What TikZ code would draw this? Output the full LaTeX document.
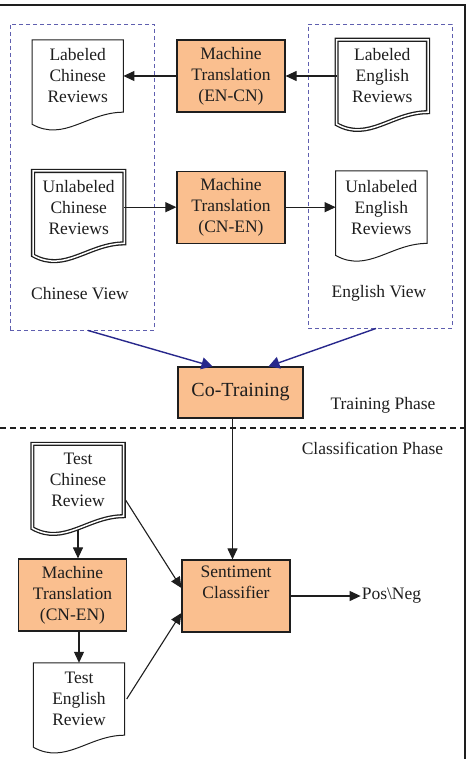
\documentclass[tikz,border=0pt]{standalone}
\usepackage{fontspec}
\setmainfont{Liberation Serif}
\usepackage{xcolor}
\usepackage{tikz}
\usetikzlibrary{positioning,arrows.meta}

\definecolor{mtfill}{RGB}{250,191,143}
\definecolor{viewblue}{RGB}{40,40,140}
\definecolor{viewdash}{RGB}{95,95,175}
\definecolor{ink}{RGB}{30,30,30}

% outline of a document node (wavy bottom)
\newcommand{\docoutline}[2][]{%
  \draw[ink, line width=1pt, #1] (#2.south east)
    .. controls +(-36pt,0pt) and +(32pt,-18pt) .. ([yshift=-12pt]#2.south west)
    -- (#2.north west) -- (#2.north east) -- cycle;}

\tikzset{
  proc/.style={draw=ink, line width=1.2pt, fill=mtfill, align=center,
    minimum width=108pt, minimum height=72pt, inner sep=2pt},
  doc/.style={align=center, minimum width=91pt, minimum height=72pt, inner sep=2pt},
  dbl/.style={double=white, double distance=1.5pt, line width=1.3pt},
  view/.style={draw=viewdash, line width=0.9pt, dash pattern=on 4pt off 3pt},
  lbl/.style={inner sep=1pt},
  flow/.style={-{Triangle[length=11pt,width=10pt]}, ink, line width=1.1pt},
  feed/.style={-{Triangle[length=11pt,width=12pt]}, viewblue, line width=1.4pt},
}

\begin{document}
\begin{tikzpicture}[x=1pt, y=-1pt, font=\fontsize{17.5pt}{21pt}\selectfont, text=ink]
  \useasboundingbox (0,0) rectangle (467,759);

  % frame and phase separator
  \draw[ink, line width=1.8pt] (0,5) -- (465,5) -- (465,759);
  \draw[ink, line width=1.2pt, dash pattern=on 6pt off 4pt] (0,428) -- (465,428);

  % views
  \node[view, minimum width=144pt, minimum height=306pt] (cnv) at (82,177) {}; %
  \node[view, minimum width=144pt, minimum height=304pt] (env) at (380,176) {}; %
  \node[lbl] (cnvl) at (80,294) {Chinese View}; %
  \node[lbl] (envl) at (379,293) {English View}; %

  % training
  \node[proc] (mt1) at (231,76) {Machine\\Translation\\(EN-CN)}; %
  \node[doc, left=53pt of mt1] (lcn) {Labeled\\Chinese\\Reviews}; %
  \node[doc, right=51pt of mt1] (len) {Labeled\\English\\Reviews}; %
  \node[proc, below=58pt of mt1] (mt2) {Machine\\Translation\\(CN-EN)}; %
  \node[doc, left=52pt of mt2] (ucn) {Unlabeled\\Chinese\\Reviews}; %
  \node[doc, right=50pt of mt2] (uen) {Unlabeled\\English\\Reviews}; %

  \docoutline{lcn}
  \docoutline[dbl]{len}
  \docoutline[dbl]{ucn}
  \docoutline{uen}

  \node[proc, minimum width=125pt, minimum height=51pt,
    font=\fontsize{20pt}{24pt}\selectfont] (cot) at (240.5,392.5) {Co-Training}; %
  \node[lbl] (trp) at (383,405) {Training Phase}; %
  \node[lbl] (clp) at (372.5,448) {Classification Phase}; %

  \draw[flow] (len.west |- mt1.east) -- (mt1.east);
  \draw[flow] (mt1.west) -- (lcn.east |- mt1.west);
  \draw[flow] (ucn.east |- mt2.west) -- (mt2.west);
  \draw[flow] (mt2.east) -- (uen.west |- mt2.east);

  \draw[feed] ([xshift=6pt]cnv.south) -- ([xshift=-28pt]cot.north);
  \draw[feed] ([xshift=-4pt]env.south) -- ([xshift=28pt]cot.north);

  % classification
  \node[doc] (tcn) at (78,480) {Test\\Chinese\\Review}; %
  \node[proc] (mt3) at (72.5,595) {Machine\\Translation\\(CN-EN)}; %
  \node[doc] (ten) at (79,699) {Test\\English\\Review}; %
  \node[proc] (sc) at (236,596) {Sentiment\\Classifier\\[6pt]}; %
  \node[lbl, right=70pt of sc] (pn) {Pos\textbackslash Neg}; %

  \docoutline[dbl]{tcn}
  \docoutline{ten}

  \draw[flow] ([yshift=-14pt]tcn.south) -- (tcn.south |- mt3.north);
  \draw[flow] (ten.north |- mt3.south) -- (ten.north);
  \draw[flow] ([xshift=-8pt]cot.south) -- ([xshift=-8pt]cot.south |- sc.north);
  \draw[flow] ([xshift=2pt,yshift=16pt]tcn.south east) -- ([yshift=8pt]sc.west);
  \draw[flow] ([xshift=2pt]ten.east) -- ([yshift=-17pt]sc.west);
  \draw[flow] (sc.east) -- (pn.west);

\end{tikzpicture}
\end{document}
